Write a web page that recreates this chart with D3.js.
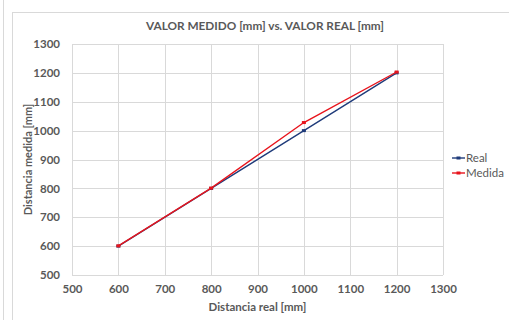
<!DOCTYPE html>
<html>
<head>
<meta charset="utf-8">
<script src="https://cdn.jsdelivr.net/npm/d3@7"></script>
<style>
  html, body { margin: 0; padding: 0; background: #fff; }
  svg { display: block; font-family: Lato, "Open Sans", sans-serif; }
</style>
</head>
<body>
<svg id="chart" width="509" height="320"></svg>
<script>
// Distances in mm
const realX = [600, 800, 1000, 1200];
const realY = [600, 800, 1000, 1200];
const medidaY = [601, 801, 1028, 1203];
const xTicks = [500, 600, 700, 800, 900, 1000, 1100, 1200, 1300];
const yTicks = [500, 600, 700, 800, 900, 1000, 1100, 1200, 1300];
const seriesNames = ["Real", "Medida"];
const seriesColors = ["#1f3b7a", "#e8141c"];

const svg = d3.select("#chart");
const W = 509, H = 320;
const m = { left: 72, right: 66, top: 44, bottom: 45 };

// outer chart frame
svg.append("line").attr("x1", 3.5).attr("x2", 3.5).attr("y1", 0).attr("y2", H)
  .attr("stroke", "#d9d9d9");
svg.append("rect").attr("x", 12.5).attr("y", 12.5).attr("width", W).attr("height", H)
  .attr("fill", "none").attr("stroke", "#d9d9d9");

const x = d3.scaleLinear().domain([500, 1300]).range([m.left, W - m.right]);
const y = d3.scaleLinear().domain([500, 1300]).range([H - m.bottom, m.top]);

// gridlines
const grid = svg.append("g");
grid.selectAll(".gx").data(xTicks).join("line")
  .attr("x1", d => Math.round(x(d)) + 0.5).attr("x2", d => Math.round(x(d)) + 0.5)
  .attr("y1", y(1300)).attr("y2", y(500))
  .attr("stroke", "#d9d9d9");
grid.selectAll(".gy").data(yTicks).join("line")
  .attr("y1", d => Math.round(y(d)) + 0.5).attr("y2", d => Math.round(y(d)) + 0.5)
  .attr("x1", x(500)).attr("x2", x(1300))
  .attr("stroke", "#d9d9d9");

// axes (labels only)
const xAxis = svg.append("g").attr("transform", `translate(0,${y(500) + 6})`)
  .call(d3.axisBottom(x).tickValues(xTicks).tickSize(0).tickPadding(4).tickFormat(d3.format("d")));
const yAxis = svg.append("g").attr("transform", `translate(${x(500) - 8},0)`)
  .call(d3.axisLeft(y).tickValues(yTicks).tickSize(0).tickPadding(4).tickFormat(d3.format("d")));
[xAxis, yAxis].forEach(a => {
  a.select(".domain").remove();
  a.selectAll("text").attr("fill", "#595959").attr("font-size", 11.5)
    .attr("font-weight", "bold").attr("font-family", "Lato, sans-serif");
});

// title and axis titles
svg.append("text").attr("x", 265).attr("y", 30).attr("text-anchor", "middle")
  .attr("font-size", 11.8).attr("font-weight", "bold").attr("fill", "#595959")
  .text("VALOR MEDIDO [mm] vs. VALOR REAL [mm]");
svg.append("text").attr("x", (x(500) + x(1300)) / 2).attr("y", 311).attr("text-anchor", "middle")
  .attr("font-size", 11.5).attr("font-weight", "bold").attr("fill", "#595959")
  .text("Distancia real [mm]");
svg.append("text").attr("transform", `translate(32,${(y(500) + y(1300)) / 2}) rotate(-90)`)
  .attr("text-anchor", "middle")
  .attr("font-size", 11).attr("font-weight", "bold").attr("fill", "#595959")
  .text("Distancia medida [mm]");

// series
const series = [
  realX.map((v, i) => [v, realY[i]]),
  realX.map((v, i) => [v, medidaY[i]])
];
const line = d3.line().x(d => x(d[0])).y(d => y(d[1]));
series.forEach((s, i) => {
  svg.append("path").datum(s).attr("d", line)
    .attr("fill", "none").attr("stroke", seriesColors[i]).attr("stroke-width", 1.4);
  svg.selectAll(null).data(s).join("rect")
    .attr("x", d => x(d[0]) - 2).attr("y", d => y(d[1]) - 1.5)
    .attr("width", 4).attr("height", 3).attr("fill", seriesColors[i]);
});

// legend
const leg = svg.append("g").attr("transform", "translate(452,158)");
seriesNames.forEach((n, i) => {
  const g = leg.append("g").attr("transform", `translate(0,${i * 15})`);
  g.append("line").attr("x1", 0).attr("x2", 13).attr("y1", 0).attr("y2", 0)
    .attr("stroke", seriesColors[i]).attr("stroke-width", 1.4);
  g.append("rect").attr("x", 4.5).attr("y", -1.5).attr("width", 4).attr("height", 3)
    .attr("fill", seriesColors[i]);
  g.append("text").attr("x", 14).attr("y", 4).attr("font-size", 11.5)
    .attr("fill", "#595959").text(n);
});
</script>
</body>
</html>
